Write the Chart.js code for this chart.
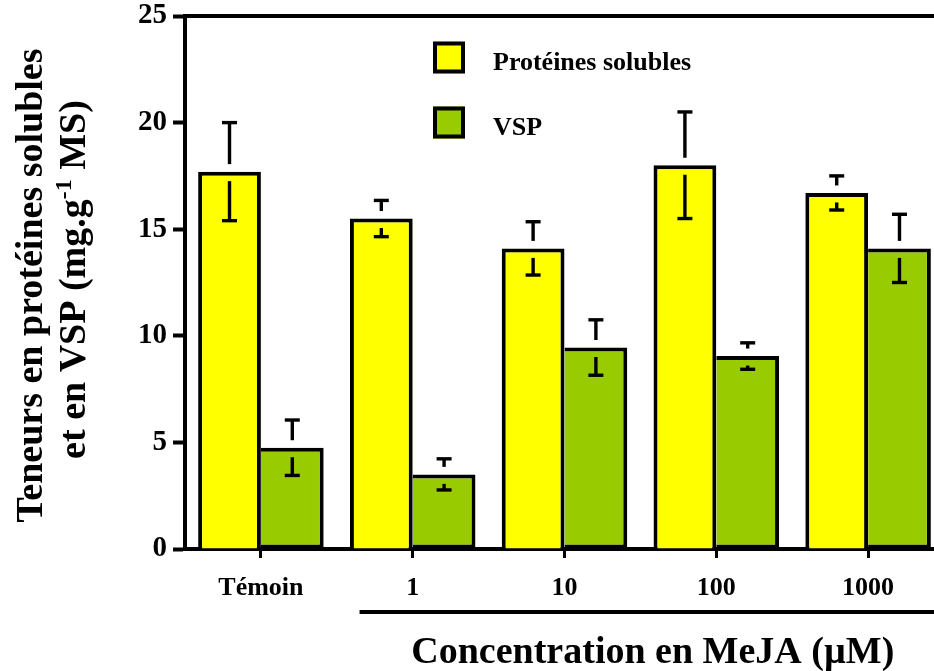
<!DOCTYPE html>
<html lang="fr">
<head>
<meta charset="utf-8">
<title>Teneurs en protéines solubles et en VSP</title>
<script src="https://cdn.jsdelivr.net/npm/chart.js@4/dist/chart.umd.min.js"></script>
<style>
  html, body { margin: 0; padding: 0; background: #ffffff; overflow: hidden; }
  #wrap { position: relative; width: 950px; height: 671px; }
</style>
</head>
<body>
<div id="wrap"><canvas id="chart" width="950" height="671"></canvas></div>
<script>
// Traitements : témoin puis concentrations en MeJA (µM)
const categories = ['Témoin', '1', '10', '100', '1000'];

// Protéines solubles (mg.g-1 MS) et écarts
const proteines = [17.7, 15.5, 14.1, 18.0, 16.7];
const proteinesErr = [2.3, 0.85, 1.25, 2.5, 0.8];

// VSP (mg.g-1 MS) et écarts
const vsp = [4.75, 3.5, 9.45, 9.05, 14.1];
const vspErr = [1.3, 0.73, 1.3, 0.62, 1.6];

// Graduations de l'axe des ordonnées
const yTicks = [0, 5, 10, 15, 20, 25];

const seriesNames = ['Protéines solubles', 'VSP'];
const xTitle = 'Concentration en MeJA (µM)';
const yTitleLine1 = 'Teneurs en protéines solubles';
const yTitleLine2 = ['et en VSP (mg.g', '-1', ' MS)'];

const SERIF = "'Liberation Serif', 'Times New Roman', serif";
Chart.defaults.font.family = SERIF;
Chart.defaults.color = '#000000';

// Barres d'erreur : trait vertical avec chapeau, interrompu au sommet de la barre
const errorBars = {
  id: 'errorBars',
  afterDatasetsDraw(chart) {
    const ctx = chart.ctx;
    const y = chart.scales.y;
    ctx.save();
    ctx.strokeStyle = '#000000';
    ctx.lineCap = 'butt';
    chart.data.datasets.forEach((ds, di) => {
      const meta = chart.getDatasetMeta(di);
      meta.data.forEach((bar, i) => {
        const v = ds.data[i];
        const e = ds.errors[i];
        const cx = bar.x;
        const top = y.getPixelForValue(v + e);
        const bot = y.getPixelForValue(v - e);
        const barTop = y.getPixelForValue(v);
        const half = 7.5;
        ctx.lineWidth = 3.4;
        // partie haute
        const upEnd = barTop - 7.5;
        if (upEnd > top) {
          ctx.beginPath(); ctx.moveTo(cx, top); ctx.lineTo(cx, upEnd); ctx.stroke();
        }
        ctx.beginPath(); ctx.moveTo(cx - half, top); ctx.lineTo(cx + half, top); ctx.stroke();
        // partie basse
        const lowStart = barTop + 9.5;
        if (bot > lowStart) {
          ctx.beginPath(); ctx.moveTo(cx, lowStart); ctx.lineTo(cx, bot); ctx.stroke();
        }
        ctx.beginPath(); ctx.moveTo(cx - half, bot); ctx.lineTo(cx + half, bot); ctx.stroke();
      });
    });
    ctx.restore();
  }
};

// Légende dans la zone du graphique
const boxLegend = {
  id: 'boxLegend',
  afterDraw(chart) {
    const ctx = chart.ctx;
    const area = chart.chartArea;
    const bx = area.left + 248;
    const rows = [area.top + 41.5, area.top + 106.5];
    ctx.save();
    chart.data.datasets.forEach((ds, i) => {
      const cy = rows[i];
      ctx.fillStyle = ds.backgroundColor;
      ctx.fillRect(bx, cy - 16, 32, 32);
      ctx.lineWidth = 4;
      ctx.strokeStyle = '#000000';
      ctx.strokeRect(bx + 2, cy - 16 + 2, 32 - 4, 32 - 4);
      ctx.fillStyle = '#000000';
      ctx.font = 'bold 26px ' + SERIF;
      ctx.textAlign = 'left';
      ctx.textBaseline = 'alphabetic';
      ctx.fillText(ds.label, bx + 60, cy + 12);
    });
    ctx.restore();
  }
};

// Cadre supérieur, soulignement des concentrations et titres des axes
const frameAndTitles = {
  id: 'frameAndTitles',
  afterDraw(chart) {
    const ctx = chart.ctx;
    const area = chart.chartArea;
    const x = chart.scales.x;
    ctx.save();
    // trait supérieur
    ctx.strokeStyle = '#000000';
    ctx.lineWidth = 4;
    ctx.beginPath();
    ctx.moveTo(area.left - 2, area.top);
    ctx.lineTo(chart.width, area.top);
    ctx.stroke();

    // soulignement sous les concentrations
    const catW = x.getPixelForValue(1) - x.getPixelForValue(0);
    const ulStart = x.getPixelForValue(1) - 0.35 * catW;
    const ulY = 612;
    ctx.beginPath();
    ctx.moveTo(ulStart, ulY);
    ctx.lineTo(chart.width, ulY);
    ctx.stroke();

    // titre de l'axe des abscisses
    ctx.fillStyle = '#000000';
    ctx.font = 'bold 38px ' + SERIF;
    ctx.textAlign = 'center';
    ctx.textBaseline = 'alphabetic';
    ctx.fillText(xTitle, (ulStart + chart.width) / 2 - 2, 663);

    // titre de l'axe des ordonnées (deux lignes, avec exposant)
    const cy = (area.top + area.bottom) / 2 + 1;
    const big = 'bold 38px ' + SERIF;
    const small = 'bold 24px ' + SERIF;

    ctx.font = big;
    const w1 = ctx.measureText(yTitleLine1).width;
    ctx.save();
    ctx.translate(42, cy + 2);
    ctx.rotate(-Math.PI / 2);
    ctx.textAlign = 'left';
    ctx.fillText(yTitleLine1, -w1 / 2, 0);
    ctx.restore();

    ctx.font = big;
    const a = ctx.measureText(yTitleLine2[0]).width;
    const c = ctx.measureText(yTitleLine2[2]).width;
    ctx.font = small;
    const b = ctx.measureText(yTitleLine2[1]).width;
    const w2 = a + b + c;
    ctx.save();
    ctx.translate(85, cy - 4);
    ctx.rotate(-Math.PI / 2);
    ctx.textAlign = 'left';
    let px = -w2 / 2;
    ctx.font = big;
    ctx.fillText(yTitleLine2[0], px, 0);
    px += a;
    ctx.font = small;
    ctx.fillText(yTitleLine2[1], px, -14);
    px += b;
    ctx.font = big;
    ctx.fillText(yTitleLine2[2], px, 0);
    ctx.restore();

    ctx.restore();
  }
};

new Chart(document.getElementById('chart'), {
  type: 'bar',
  data: {
    labels: categories,
    datasets: [
      {
        label: seriesNames[0],
        data: proteines,
        errors: proteinesErr,
        backgroundColor: '#FFFF00',
        borderColor: '#000000',
        borderWidth: 4,
        borderSkipped: 'bottom'
      },
      {
        label: seriesNames[1],
        data: vsp,
        errors: vspErr,
        backgroundColor: '#99CC00',
        borderColor: '#000000',
        borderWidth: 4,
        borderSkipped: 'left'
      }
    ]
  },
  options: {
    responsive: false,
    animation: false,
    devicePixelRatio: 1,
    layout: { padding: { top: 16, right: 6, left: 0, bottom: 0 } },
    datasets: {
      bar: { categoryPercentage: 0.827, barPercentage: 1.0 }
    },
    plugins: {
      legend: { display: false },
      tooltip: { enabled: false },
      title: { display: false }
    },
    scales: {
      x: {
        type: 'category',
        offset: true,
        afterFit(scale) {
          scale.height = 122;
          scale.paddingLeft = 0;
          scale.paddingRight = 0;
        },
        grid: {
          offset: false,
          drawOnChartArea: false,
          drawTicks: true,
          tickLength: 9,
          tickWidth: 3,
          tickColor: '#000000'
        },
        border: { display: true, color: '#000000', width: 4 },
        ticks: {
          color: '#000000',
          font: { family: SERIF, size: 26, weight: 'bold' },
          padding: 15,
          maxRotation: 0,
          autoSkip: false
        }
      },
      y: {
        type: 'linear',
        min: 0,
        max: 25,
        afterFit(scale) {
          scale.width = 185;
          scale.paddingTop = 0;
          scale.paddingBottom = 0;
        },
        afterBuildTicks(scale) { scale.ticks = yTicks.map(v => ({ value: v })); },
        grid: {
          drawOnChartArea: false,
          drawTicks: true,
          tickLength: 12,
          tickWidth: 4,
          tickColor: '#000000'
        },
        border: { display: true, color: '#000000', width: 4 },
        ticks: {
          color: '#000000',
          font: { family: SERIF, size: 29, weight: 'bold' },
          padding: 6
        }
      }
    }
  },
  plugins: [errorBars, boxLegend, frameAndTitles]
});
</script>
</body>
</html>
